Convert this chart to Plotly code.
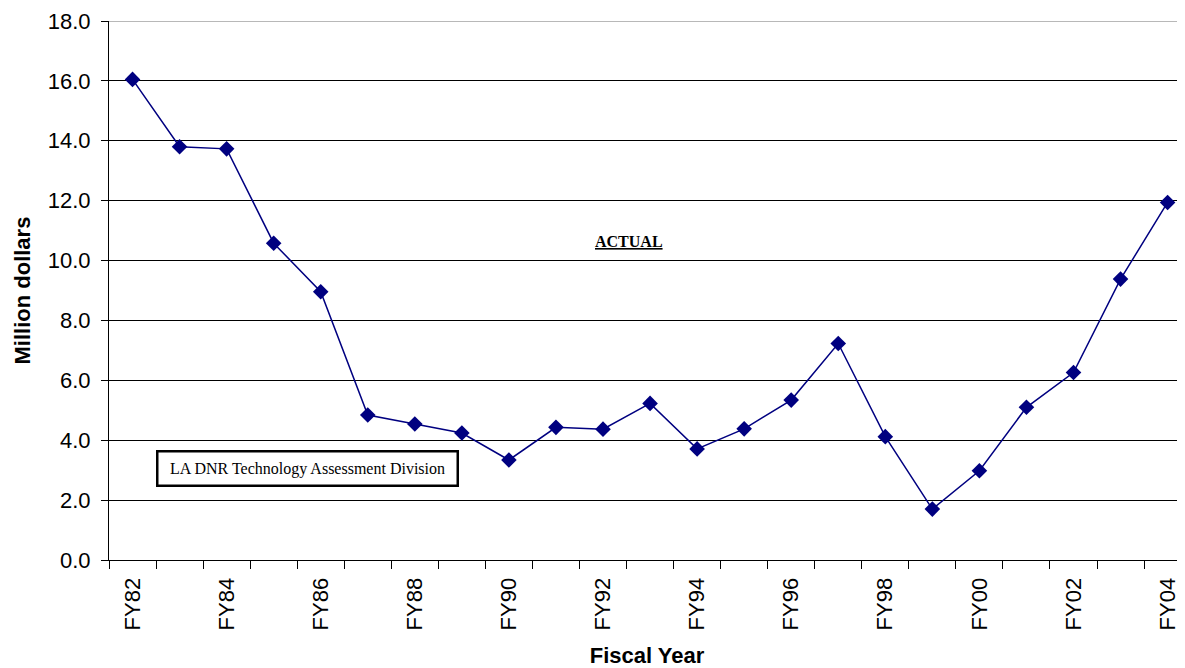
import plotly.graph_objects as go

categories = ["FY82", "FY83", "FY84", "FY85", "FY86", "FY87", "FY88", "FY89",
              "FY90", "FY91", "FY92", "FY93", "FY94", "FY95", "FY96", "FY97",
              "FY98", "FY99", "FY00", "FY01", "FY02", "FY03", "FY04"]
values = [16.05, 13.80, 13.73, 10.58, 8.96, 4.84, 4.54, 4.24,
          3.34, 4.43, 4.37, 5.23, 3.71, 4.38, 5.34, 7.23,
          4.12, 1.70, 2.98, 5.10, 6.26, 9.38, 11.94]
y_ticks = [0, 2, 4, 6, 8, 10, 12, 14, 16, 18]

xpos = list(range(len(categories)))
label_idx = xpos[::2]

fig = go.Figure()
fig.add_trace(go.Scatter(
    x=xpos, y=values, mode="lines+markers",
    line=dict(color="#000080", width=1.5),
    marker=dict(symbol="diamond", size=12, color="#000080"),
    showlegend=False,
))

fig.update_layout(
    width=1177, height=660,
    margin=dict(l=101, r=0, t=13, b=108),
    paper_bgcolor="white", plot_bgcolor="white",
    font=dict(family="Arial, Liberation Sans, sans-serif", color="black"),
    xaxis=dict(
        range=[-0.5, 22.37],
        tickvals=label_idx,
        ticktext=[categories[i] for i in label_idx],
        tickangle=-90,
        tickfont=dict(size=22),
        ticks="",
        ticklabelstandoff=8,
        showgrid=False,
        showline=True, linecolor="black", linewidth=1,
        minor=dict(tick0=-0.5, dtick=1, ticks="outside", ticklen=8,
                   tickcolor="black", tickwidth=1, showgrid=False),
        title=dict(text="<b>Fiscal Year</b>", font=dict(size=22), standoff=20),
        zeroline=False,
        automargin=False,
    ),
    yaxis=dict(
        range=[0, 18],
        tickvals=y_ticks,
        ticktext=[f"{v:.1f}" for v in y_ticks],
        tickfont=dict(size=22),
        ticks="outside", ticklen=7, tickcolor="black",
        ticklabelstandoff=6,
        showgrid=True, gridcolor="black", gridwidth=1,
        showline=True, linecolor="black", linewidth=1,
        zeroline=False,
        automargin=False,
    ),
)

fig.add_shape(type="line", xref="paper", yref="y", x0=0, x1=1, y0=18, y1=18,
              line=dict(color="#a0a0a0", width=1.5))

fig.add_annotation(
    x=(22 - 109) / 1076, xref="paper", y=0.5, yref="paper",
    xanchor="center", yanchor="middle", textangle=-90,
    text="<b>Million dollars</b>", showarrow=False,
    font=dict(size=22, color="black"),
)

fig.add_annotation(
    x=(629 - 109) / 1076, xref="paper", y=10.62, yref="y",
    xanchor="center", yanchor="middle",
    text="<u><b>ACTUAL</b></u>", showarrow=False,
    font=dict(family="Liberation Serif, serif", size=16, color="black"),
)

fig.add_annotation(
    x=(307.5 - 109) / 1076, xref="paper",
    y=(560 - 468) / 539, yref="paper",
    xanchor="center", yanchor="middle",
    text="LA DNR Technology Assessment Division",
    showarrow=False,
    font=dict(family="Liberation Serif, serif", size=16, color="black"),
    bordercolor="black", borderwidth=2.5, bgcolor="white",
    width=296, height=30,
)

fig.write_html("out.html")
